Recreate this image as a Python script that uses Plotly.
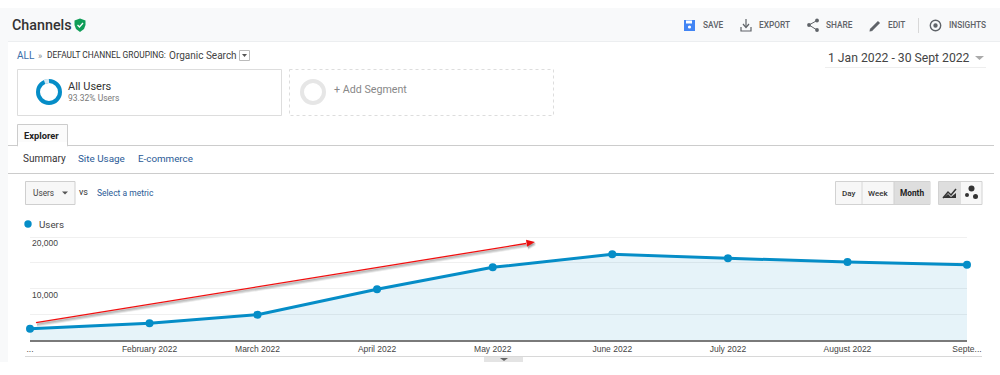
import math
import plotly.graph_objects as go

# ---- data ----
months = ["2022-01-01", "2022-02-01", "2022-03-01", "2022-04-01", "2022-05-01",
          "2022-06-01", "2022-07-01", "2022-08-01", "2022-09-01"]
users = [2190, 3240, 4920, 9840, 14110, 16640, 15860, 15150, 14630]
x_tick_labels = ["...", "February 2022", "March 2022", "April 2022", "May 2022",
                 "June 2022", "July 2022", "August 2022", "Septe..."]
y_tick_values = [0, 5000, 10000, 15000, 20000]
y_tick_labels = ["", "", "10,000", "", "20,000"]

W, H = 1000, 375
BLUE = "#058dc7"
LINK = "#2a5a96"
shapes, notes = [], []


def px(x):
    return x / W


def py(y):
    return 1 - y / H


def rect(x0, y0, x1, y1, fill=None, line=None, lw=1, dash=None, layer="below"):
    shapes.append(dict(type="rect", xref="paper", yref="paper", x0=px(x0), x1=px(x1),
                       y0=py(y0), y1=py(y1), fillcolor=fill or "rgba(0,0,0,0)", layer=layer,
                       line=dict(color=line or "rgba(0,0,0,0)", width=lw if line else 0, dash=dash)))


def seg(x0, y0, x1, y1, color, lw=1, layer="below", opacity=1):
    shapes.append(dict(type="line", xref="paper", yref="paper", x0=px(x0), x1=px(x1),
                       y0=py(y0), y1=py(y1), layer=layer, opacity=opacity,
                       line=dict(color=color, width=lw)))


def circle(cx, cy, r, fill=None, line=None, lw=1, layer="below"):
    shapes.append(dict(type="circle", xref="paper", yref="paper", x0=px(cx - r), x1=px(cx + r),
                       y0=py(cy + r), y1=py(cy - r), fillcolor=fill or "rgba(0,0,0,0)", layer=layer,
                       line=dict(color=line or "rgba(0,0,0,0)", width=lw if line else 0)))


def poly(pts, fill=None, line=None, lw=1, closed=True, layer="below", opacity=1):
    d = "M" + " L".join(f"{px(a):.5f},{py(b):.5f}" for a, b in pts) + (" Z" if closed else "")
    shapes.append(dict(type="path", xref="paper", yref="paper", path=d, layer=layer, opacity=opacity,
                       fillcolor=fill or "rgba(0,0,0,0)",
                       line=dict(color=line or "rgba(0,0,0,0)", width=lw if line else 0)))


def text(x, y, s, size=10, color="#333333", weight=400, family="Roboto", anchor="left"):
    notes.append(dict(xref="paper", yref="paper", x=px(x - 1 if anchor == "left" else x), y=py(y), text=s,
                      showarrow=False, xanchor=anchor, yanchor="middle", borderpad=0,
                      font=dict(family=family, size=size, color=color, weight=weight)))


# ---- page chrome ----
rect(0, 8, 1000, 41, fill="#f8f9fa")
seg(6, 41.5, 1000, 41.5, "#eceef0", 1)
rect(0, 41, 8, 362, fill="#f8f9fa")
text(12, 25, "Channels", 14.3, "#333333", 500)
poly([(80, 18.5), (85.5, 20.5), (85.5, 25), (84, 29), (80, 32), (76, 29), (74.5, 25), (74.5, 20.5)], fill="#0f9d58")
poly([(77.5, 25), (79.5, 27), (83, 23)], line="#ffffff", lw=1.3, closed=False)

GREY = "#5f6368"
rect(684, 20, 695, 31, fill="#4285f4")
rect(686, 20.5, 692, 23.5, fill="#ffffff")
circle(689.5, 27, 1.6, fill="#ffffff")
text(703, 25, "SAVE", 8.3, GREY, 500)
seg(746, 19, 746, 27, GREY, 1.2)
poly([(743, 24), (746, 27.5), (749, 24)], line=GREY, lw=1.2, closed=False)
poly([(741, 27), (741, 31), (751, 31), (751, 27)], line=GREY, lw=1.2, closed=False)
text(759, 25, "EXPORT", 8.3, GREY, 500)
circle(817, 20.5, 1.9, fill=GREY)
circle(809, 25, 1.9, fill=GREY)
circle(817, 30, 1.9, fill=GREY)
poly([(817, 20.5), (809, 25), (817, 30)], line=GREY, lw=1, closed=False)
text(826, 25, "SHARE", 8.3, GREY, 500)
seg(871, 30, 879, 22, GREY, 3)
poly([(870, 28.5), (869.5, 31.5), (872.5, 31)], fill=GREY)
text(888, 25, "EDIT", 8.3, GREY, 500)
seg(918.5, 18, 918.5, 33, "#d8d8d8", 1)
circle(935.5, 25.5, 5.2, line=GREY, lw=1.4)
circle(935.5, 25.5, 2.2, fill=GREY)
text(949, 25, "INSIGHTS", 8.3, GREY, 500)

text(17, 55, "ALL", 10, "#3b6ea8")
text(38, 55.5, "»", 9, "#888888")
text(47, 55, "DEFAULT CHANNEL GROUPING:", 8.4, "#333333")
text(169, 55, "Organic Search", 10, "#444444")
rect(239.5, 50.5, 249.5, 60.5, fill="#ffffff", line="#bbbbbb")
poly([(242, 54), (247, 54), (244.5, 57)], fill="#555555")

text(828, 58, "1 Jan 2022 - 30 Sept 2022", 12.2, "#444444")
poly([(975, 56), (984, 56), (979.5, 60)], fill="#aaaaaa")
seg(825, 67.5, 986, 67.5, "#eeeeee", 1)

# segments
rect(17.5, 69.5, 281.5, 115.5, fill="#ffffff", line="#dddddd")
circle(49, 92, 11, line=BLUE, lw=4)
poly([(49 + 11 * math.sin(math.radians(a)), 92 - 11 * math.cos(math.radians(a))) for a in (-24, -16, -8, 0)],
     line="#d5e8f2", lw=4.5, closed=False)
text(68, 86, "All Users", 11, "#333333")
text(68, 98, "93.32% Users", 8.5, "#777777")
rect(289.5, 69.5, 553.5, 115.5, fill="#ffffff", line="#dddddd", dash="dot")
circle(313, 92, 11, line="#e6e6e6", lw=4)
text(334, 89.5, "+ Add Segment", 10.7, "#888888")

# tabs
seg(8, 145.5, 994, 145.5, "#cccccc", 1)
rect(17.5, 124.5, 67.5, 146, fill="#fbfbfb", line="#cccccc")
rect(18, 142, 67, 147, fill="#ffffff")
text(24, 135, "Explorer", 9.3, "#222222", 700)
text(23, 159, "Summary", 10, "#333333")
text(78, 159, "Site Usage", 9.9, LINK)
text(138, 159, "E-commerce", 9.8, LINK)
seg(8, 173.5, 994, 173.5, "#cccccc", 1)

# metric selector
rect(25.5, 181.5, 75, 204.5, fill="#f7f7f7", line="#cfcfcf")
text(33, 193, "Users", 8.3, "#444444")
poly([(62, 191.5), (68, 191.5), (65, 194.5)], fill="#555555")
text(79, 192, "vs", 9, "#333333")
text(97, 193, "Select a metric", 8.5, LINK)

# grain buttons
rect(835.5, 181.5, 930, 204.5, fill="#f7f7f7", line="#d2d2d2")
rect(894, 182, 930, 204, fill="#dedede")
seg(862, 182, 862, 204, "#d8d8d8")
seg(894, 182, 894, 204, "#cfcfcf")
text(848.5, 193, "Day", 8, "#333333", 500, anchor="center")
text(877.5, 193, "Week", 8, "#333333", 500, anchor="center")
text(912, 193, "Month", 8.3, "#222222", 700, anchor="center")
rect(938.5, 181.5, 982, 204.5, fill="#f7f7f7", line="#d2d2d2")
rect(939, 182, 961, 204, fill="#dedede")
poly([(943, 198), (948, 192), (951, 195), (956, 189)], line="#333333", lw=1.5, closed=False)
poly([(943, 198), (948, 194), (951, 197), (956, 193), (956, 198)], fill="#333333")
circle(971.5, 188.5, 3, fill="#333333")
circle(967, 195, 2, fill="#333333")
circle(975.5, 196.5, 2.5, fill="#333333")

# legend
circle(28, 224, 3.7, fill=BLUE)
text(39, 224, "Users", 9.8, "#444444")

# chart frame below the axis
seg(25, 356.5, 982, 356.5, "#d8d8d8", 1)
rect(484, 357, 523, 362, fill="#e4e4e4")
poly([(500, 358), (508, 358), (504, 361)], fill="#666666")

# red arrow with its shadow
ax0, ay0, ax1, ay1 = 36, 322.7, 526, 243.5
for off, op in ((3.2, 0.12), (2.2, 0.2), (1.2, 0.3)):
    seg(ax0 + 1, ay0 + off, ax1 + 1, ay1 + off, "#555555", 1.6, layer="above", opacity=op)
    poly([(526 + 1, 239.8 + off), (535 + 1, 242 + off), (527 + 1, 246.8 + off)], fill="#555555", layer="above", opacity=op)
seg(ax0, ay0, ax1, ay1, "#f01010", 1.3, layer="above")
poly([(526, 239.8), (535, 242), (527, 246.8)], fill="#e81010", layer="above")

# y tick labels sit just under their gridlines, at the left of the plot
for v, s in zip(y_tick_values, y_tick_labels):
    if s:
        notes.append(dict(xref="paper", yref="y", x=px(31), y=v, yshift=-6, text=s, showarrow=False,
                          xanchor="left", yanchor="middle", borderpad=0,
                          font=dict(family="Liberation Sans", size=8.5, color="#444444")))

fig = go.Figure(go.Scatter(
    x=months, y=users, mode="lines+markers", fill="tozeroy",
    fillcolor="rgba(5,141,199,0.1)", cliponaxis=False,
    line=dict(color=BLUE, width=3), marker=dict(color=BLUE, size=8), hoverinfo="skip",
))
fig.update_layout(
    width=W, height=H, margin=dict(l=0, r=0, t=0, b=0, pad=0), autosize=False,
    paper_bgcolor="#ffffff", plot_bgcolor="#ffffff", showlegend=False,
    shapes=shapes, annotations=notes,
    xaxis=dict(domain=[px(30), px(967)], range=[months[0], months[-1]], type="date", automargin=False,
               tickvals=months, ticktext=x_tick_labels, ticks="", showgrid=False, zeroline=False,
               showline=True, linecolor="#7a7a7a", linewidth=1.5,
               tickfont=dict(family="Liberation Sans", size=8.5, color="#444444"), tickangle=0,
               anchor="y"),
    yaxis=dict(domain=[py(340), py(235)], range=[0, 20388], tickvals=y_tick_values, automargin=False,
               ticks="", showgrid=True, gridcolor="#f0f0f0", gridwidth=1, zeroline=False, showline=False,
               showticklabels=False, anchor="x"),
)
fig.write_html("out.html", config={"displayModeBar": False},
               post_script="document.body.style.margin='0';")
